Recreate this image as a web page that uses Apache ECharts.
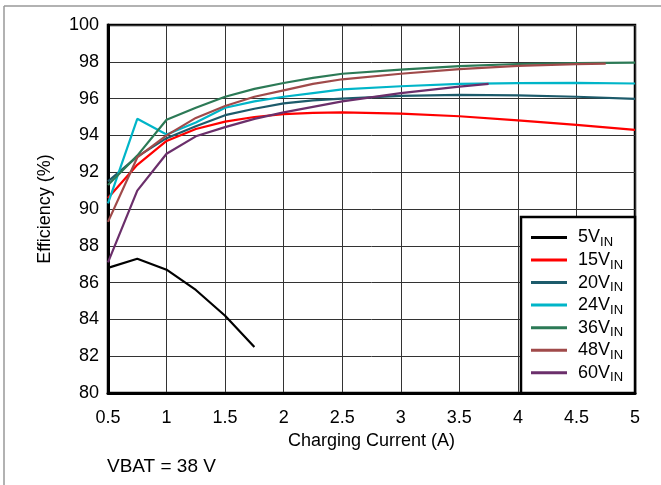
<!DOCTYPE html>
<html><head><meta charset="utf-8">
<script src="https://cdn.jsdelivr.net/npm/echarts@6/dist/echarts.min.js"></script>
<style>html,body{margin:0;padding:0;background:#fff}#c{width:661px;height:485px}</style>
</head><body><div id="c"></div>
<script>
const seriesNames = ['5V', '15V', '20V', '24V', '36V', '48V', '60V'];
const seriesColors = ['#000000', '#ff0000', '#1d5b6b', '#00b5c8', '#2c7a56', '#a04a4a', '#6b2f6b'];
const currentA = [0.5, 0.75, 1, 1.25, 1.5, 1.75, 2, 2.25, 2.5, 3, 3.5, 4, 4.5, 5];
const current5V = [0.5, 0.75, 1, 1.25, 1.5, 1.75];
const current48V = [0.5, 0.75, 1, 1.25, 1.5, 1.75, 2, 2.25, 2.5, 3, 3.5, 4, 4.5, 4.75];
const current60V = [0.5, 0.75, 1, 1.25, 1.5, 1.75, 2, 2.25, 2.5, 3, 3.5, 3.75];
const eff5V  = [86.8, 87.3, 86.7, 85.6, 84.2, 82.5];
const eff15V = [90.6, 92.4, 93.7, 94.35, 94.75, 95.0, 95.16, 95.22, 95.25, 95.18, 95.04, 94.82, 94.57, 94.3];
const eff20V = [91.5, 92.85, 93.85, 94.5, 95.1, 95.45, 95.74, 95.9, 96.0, 96.15, 96.2, 96.18, 96.1, 95.98];
const eff24V = [90.3, 94.9, 94.05, 94.7, 95.5, 95.85, 96.1, 96.3, 96.5, 96.67, 96.8, 96.84, 96.85, 96.82];
const eff36V = [91.3, 92.9, 94.85, 95.5, 96.1, 96.53, 96.85, 97.13, 97.35, 97.58, 97.76, 97.88, 97.93, 97.95];
const eff48V = [89.3, 92.8, 94.0, 94.95, 95.6, 96.1, 96.45, 96.8, 97.05, 97.35, 97.6, 97.78, 97.87, 97.9];
const eff60V = [87.1, 91.0, 93.0, 93.95, 94.45, 94.9, 95.25, 95.55, 95.85, 96.3, 96.65, 96.8];
const xTicks = { min: 0.5, max: 5, interval: 0.5 };
const yTicks = { min: 80, max: 100, interval: 2 };

const seriesX = [current5V, currentA, currentA, currentA, currentA, current48V, current60V];
const seriesY = [eff5V, eff15V, eff20V, eff24V, eff36V, eff48V, eff60V];

const FONT = '"Liberation Sans", Arial, sans-serif';
const chart = echarts.init(document.getElementById('c'), null, { renderer: 'canvas' });

chart.setOption({
  backgroundColor: '#ffffff',
  animation: false,
  textStyle: { fontFamily: FONT },
  grid: { left: 108, right: 26, top: 25, bottom: 92, show: true, borderColor: '#000', borderWidth: 2.5, backgroundColor: 'transparent' },
  xAxis: {
    type: 'value', min: xTicks.min, max: xTicks.max, interval: xTicks.interval,
    name: 'Charging Current (A)', nameLocation: 'middle', nameGap: 38,
    nameTextStyle: { fontSize: 18, color: '#000', fontFamily: FONT },
    axisLine: { show: true, lineStyle: { color: '#000', width: 3 } },
    axisTick: { show: false },
    axisLabel: { fontSize: 18, color: '#000', margin: 16, fontFamily: FONT },
    splitLine: { show: true, lineStyle: { color: '#333', width: 1 } }
  },
  yAxis: {
    type: 'value', min: yTicks.min, max: yTicks.max, interval: yTicks.interval,
    name: 'Efficiency (%)', nameLocation: 'middle', nameGap: 54,
    nameTextStyle: { fontSize: 18, color: '#000', fontFamily: FONT },
    axisLine: { show: true, lineStyle: { color: '#000', width: 3 } },
    axisTick: { show: false },
    axisLabel: { fontSize: 18, color: '#000', margin: 9, fontFamily: FONT },
    splitLine: { show: true, lineStyle: { color: '#333', width: 1 } }
  },
  legend: {
    orient: 'vertical', left: 531, top: 226, z: 10, padding: 0,
    icon: 'rect', itemWidth: 36, itemHeight: 3, itemGap: -0.46,
    data: seriesNames,
    formatter: function (n) { return '{a|' + n + '}{b|IN}'; },
    textStyle: {
      color: '#000', fontFamily: FONT,
      rich: {
        a: { fontSize: 18, lineHeight: 18, padding: [0, 0, 0, 6], color: '#000', fontFamily: FONT },
        b: { fontSize: 13, lineHeight: 9, padding: [10, 0, 0, 0], color: '#000', fontFamily: FONT }
      }
    }
  },
  graphic: [
    { type: 'line', z: 1, shape: { x1: 4, y1: 6, x2: 661, y2: 6 }, style: { stroke: '#999', lineWidth: 1.5 } },
    { type: 'line', z: 1, shape: { x1: 4, y1: 6, x2: 4, y2: 485 }, style: { stroke: '#999', lineWidth: 1.5 } },
    { type: 'rect', z: 5, shape: { x: 521, y: 217, width: 114, height: 176 }, style: { fill: '#fff', stroke: '#000', lineWidth: 2.5 } },
    { type: 'text', z: 5, left: 107, top: 457, style: { text: 'VBAT = 38 V', fontSize: 19, fill: '#000', fontFamily: FONT } }
  ],
  series: seriesNames.map(function (n, i) {
    return {
      name: n, type: 'line', symbol: 'none', smooth: false, z: 3,
      color: seriesColors[i],
      lineStyle: { color: seriesColors[i], width: 2.2 },
      data: seriesX[i].map(function (x, j) { return [x, seriesY[i][j]]; })
    };
  })
});
</script></body></html>
